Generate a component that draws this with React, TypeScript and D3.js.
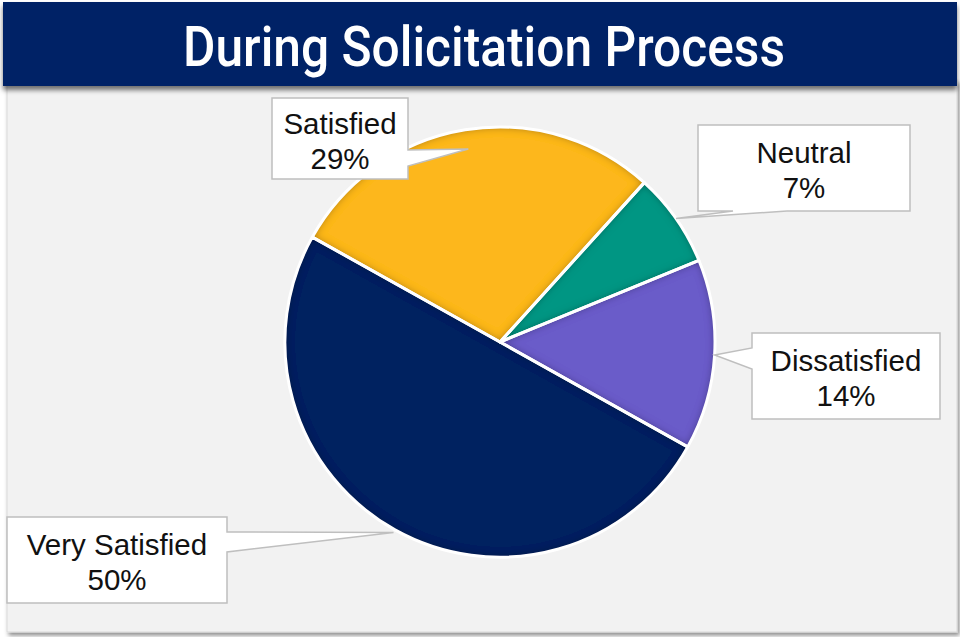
import React from "react";
import * as d3 from "d3";

const title = "During Solicitation Process";
const categories = ["Very Satisfied", "Satisfied", "Neutral", "Dissatisfied"];
const values = [50, 28.6, 7.1, 14.3];
const percentLabels = ["50%", "29%", "7%", "14%"];
const colors = ["#002060", "#FDB71A", "#009683", "#6A5BC9"];

// annotation layout (callout boxes), in px
const calloutBoxes = [
  { x: 7, y: 517, w: 220, h: 86, side: "right", b0: 532, b1: 552, tipR: 1.015 },
  { x: 272, y: 98, w: 136, h: 81, side: "right", b0: 150, b1: 166, tipR: 0.91 },
  { x: 698, y: 125, w: 212, h: 86, side: "bottom", b0: 733, b1: 787, tipR: 1.0 },
  { x: 752, y: 333, w: 188, h: 86, side: "left", b0: 348, b1: 369, tipR: 1.0 },
];

const W = 960;
const H = 637;
const cx = 500;
const cy = 342;
const R = 215;
const START_DEG = 119.2;

type Datum = { name: string; value: number; label: string; color: string };

export default function App() {
  const data: Datum[] = categories.map((c, i) => ({
    name: c,
    value: values[i],
    label: percentLabels[i],
    color: colors[i],
  }));
  const start = (START_DEG * Math.PI) / 180;
  const pie = d3
    .pie<Datum>()
    .sort(null)
    .value((d) => d.value)
    .startAngle(start)
    .endAngle(start + Math.PI * 2);
  const arcs = pie(data);
  const arc = d3.arc<d3.PieArcDatum<Datum>>().innerRadius(0).outerRadius(R);

  const calloutPath = (i: number, a: d3.PieArcDatum<Datum>) => {
    const b = calloutBoxes[i];
    const mid = (a.startAngle + a.endAngle) / 2;
    const tx = cx + R * b.tipR * Math.sin(mid);
    const ty = cy - R * b.tipR * Math.cos(mid);
    const { x, y, w, h } = b;
    if (b.side === "right") {
      return `M${x},${y}H${x + w}V${b.b0}L${tx},${ty}L${x + w},${b.b1}V${y + h}H${x}Z`;
    }
    if (b.side === "left") {
      return `M${x},${y}H${x + w}V${y + h}H${x}V${b.b1}L${tx},${ty}L${x},${b.b0}Z`;
    }
    return `M${x},${y}H${x + w}V${y + h}H${b.b1}L${tx},${ty}L${b.b0},${y + h}H${x}Z`;
  };

  return (
    <div style={{ position: "absolute", left: 0, top: 0 }}>
      <svg width={W} height={H} style={{ display: "block" }}>
        <defs>
          <filter id="panelShadow" x="-5%" y="-5%" width="110%" height="110%">
            <feDropShadow dx="2" dy="3" stdDeviation="2" floodColor="#000" floodOpacity="0.45" />
          </filter>
          <filter id="barShadow" x="-5%" y="-20%" width="110%" height="150%">
            <feDropShadow dx="0" dy="4" stdDeviation="2.5" floodColor="#000" floodOpacity="0.55" />
          </filter>
          <filter id="inner" x="-10%" y="-10%" width="120%" height="120%">
            <feFlood floodColor="#000" floodOpacity="0.75" result="c" />
            <feComposite in="c" in2="SourceAlpha" operator="out" result="inv" />
            <feGaussianBlur in="inv" stdDeviation="4" result="blur" />
            <feComposite in="blur" in2="SourceAlpha" operator="in" result="sh" />
            <feMerge>
              <feMergeNode in="SourceGraphic" />
              <feMergeNode in="sh" />
            </feMerge>
          </filter>
        </defs>
        <rect x={0} y={0} width={W} height={H} fill="#ffffff" />
        <rect
          x={7}
          y={80}
          width={950}
          height={552}
          fill="#f2f2f2"
          stroke="#d9d9d9"
          strokeWidth={1}
          filter="url(#panelShadow)"
        />
        <rect x={3} y={2} width={954} height={84} fill="#022066" filter="url(#barShadow)" />
        <text
          x={484}
          y={66}
          textAnchor="middle"
          fill="#ffffff"
          fontFamily="Roboto, 'Liberation Sans', sans-serif"
          fontWeight={500}
          fontSize={55}
          textLength={602}
          lengthAdjust="spacingAndGlyphs"
        >
          {title}
        </text>
        <g>
          {arcs.map((a, i) => (
            <path
              key={"f" + i}
              d={arc(a) as string}
              transform={`translate(${cx},${cy})`}
              fill={a.data.color}
              filter="url(#inner)"
            />
          ))}
          {arcs.map((a, i) => (
            <path
              key={"s" + i}
              d={arc(a) as string}
              transform={`translate(${cx},${cy})`}
              fill="none"
              stroke="#ffffff"
              strokeWidth={3}
              strokeLinejoin="round"
            />
          ))}
        </g>
        <g fontFamily="'Liberation Sans', Arial, sans-serif" fontSize={29.5} fill="#111">
          {arcs.map((a, i) => {
            const b = calloutBoxes[i];
            const bx = b.x + b.w / 2;
            const by = b.y + b.h / 2;
            return (
              <g key={"c" + i}>
                <path d={calloutPath(i, a)} fill="#ffffff" stroke="#bfbfbf" strokeWidth={1.5} />
                <text x={bx} y={by - 5} textAnchor="middle">
                  {a.data.name}
                </text>
                <text x={bx} y={by + 30} textAnchor="middle">
                  {a.data.label}
                </text>
              </g>
            );
          })}
        </g>
      </svg>
    </div>
  );
}
